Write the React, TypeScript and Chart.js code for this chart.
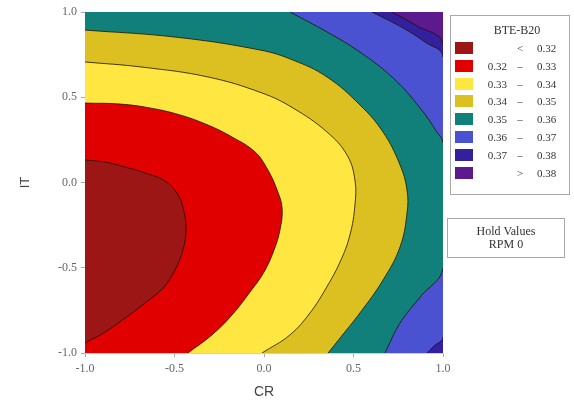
import React, { useEffect, useRef } from 'react';
import { Chart, registerables } from 'chart.js';

Chart.register(...registerables);

// Contour levels (BTE-B20) and region colours
const levels = [0.32, 0.33, 0.34, 0.35, 0.36, 0.37, 0.38];
const regionColors = ['#9c1616', '#e00000', '#ffe640', '#dcc022', '#12807a', '#4a52d2', '#34209c', '#5c1a8e'];

// Contour curves: [CR, IT] pairs, ordered top to bottom
const contour032 = [[-1, 0.132], [-0.888, 0.12], [-0.777, 0.091], [-0.665, 0.056], [-0.553, 0.009], [-0.48, -0.073], [-0.447, -0.173], [-0.436, -0.279], [-0.453, -0.396], [-0.497, -0.513], [-0.564, -0.619], [-0.665, -0.707], [-0.777, -0.795], [-0.888, -0.877], [-1, -0.941]];
const contour033 = [[-1, 0.466], [-0.804, 0.46], [-0.637, 0.437], [-0.469, 0.396], [-0.313, 0.337], [-0.179, 0.267], [-0.05, 0.179], [0.022, 0.073], [0.073, -0.044], [0.101, -0.15], [0.089, -0.279], [0.056, -0.396], [0.0, -0.525], [-0.078, -0.642], [-0.179, -0.777], [-0.291, -0.894], [-0.425, -1]];
const contour034 = [[-1, 0.707], [-0.682, 0.677], [-0.313, 0.619], [-0.011, 0.525], [0.162, 0.437], [0.352, 0.296], [0.464, 0.161], [0.508, 0.015], [0.508, -0.132], [0.48, -0.308], [0.425, -0.466], [0.341, -0.63], [0.257, -0.765], [0.145, -0.894], [-0.011, -1]];
const contour035 = [[-1, 0.894], [-0.497, 0.853], [-0.022, 0.777], [0.162, 0.718], [0.352, 0.619], [0.536, 0.455], [0.665, 0.296], [0.76, 0.103], [0.799, -0.044], [0.799, -0.179], [0.76, -0.378], [0.665, -0.572], [0.536, -0.765], [0.425, -0.912], [0.358, -1]];
const contour036 = [[0.145, 1], [0.352, 0.883], [0.536, 0.765], [0.721, 0.613], [0.872, 0.437], [0.966, 0.296], [1, 0.232], [1, -0.501], [0.872, -0.672], [0.76, -0.824], [0.676, -1]];
const contour037 = [[0.603, 1], [0.777, 0.906], [0.899, 0.824], [1, 0.736], [1, -0.906], [0.95, -0.959], [0.911, -1]];
const contour038 = [[0.715, 1], [0.844, 0.924], [1, 0.806], [1, -1]];
const fullArea = [[1, 1], [1, -1]];

const regions = [contour032, contour033, contour034, contour035, contour036, contour037, contour038, fullArea];
const contours = [contour032, contour033, contour034, contour035, contour036, contour037, contour038];

// Axes
const xTicks = [-1, -0.5, 0, 0.5, 1];
const xTickLabels = ['-1.0', '-0.5', '0.0', '0.5', '1.0'];
const yTicks = [-1, -0.5, 0, 0.5, 1];
const yTickLabels = ['-1.0', '-0.5', '0.0', '0.5', '1.0'];
const xTitle = 'CR';
const yTitle = 'IT';

// Legend
const legendTitle = 'BTE-B20';
const legendLower = ['', '0.32', '0.33', '0.34', '0.35', '0.36', '0.37', ''];
const legendSep = ['<', '–', '–', '–', '–', '–', '–', '>'];
const legendUpper = ['0.32', '0.33', '0.34', '0.35', '0.36', '0.37', '0.38', '0.38'];
const holdLabels = ['Hold Values', 'RPM 0'];

const lineColor = 'rgba(25,20,0,0.8)';
const serif = '"Liberation Serif", "DejaVu Serif", serif';
const sans = '"Liberation Sans", "DejaVu Sans", sans-serif';

export default function App() {
  const ref = useRef<HTMLCanvasElement>(null);

  useEffect(() => {
    if (!ref.current) return;
    const toPts = (arr: number[][]) => arr.map(([x, y]) => ({ x, y }));

    const fillSets = regions.map((r, i) => ({
      data: toPts(r),
      backgroundColor: regionColors[i],
      borderWidth: 0,
      borderColor: 'rgba(0,0,0,0)',
      fill: { value: -1 },
      pointRadius: 0,
      tension: 0.4,
      order: i + 1,
    }));

    const lineSets = contours.map((c) => ({
      data: toPts(c),
      borderColor: lineColor,
      borderWidth: 1,
      fill: false,
      pointRadius: 0,
      tension: 0.4,
      order: 0,
      segment: {
        borderColor: (ctx: any) => {
          const a = c[ctx.p0DataIndex];
          const b = c[ctx.p1DataIndex];
          return a && b && a[0] >= 1 && b[0] >= 1 ? 'rgba(0,0,0,0)' : lineColor;
        },
      },
    }));

    const tickFont = { family: serif, size: 12 };

    const chart = new Chart(ref.current, {
      type: 'line',
      data: { datasets: [...lineSets, ...fillSets] as any },
      options: {
        animation: false,
        responsive: false,
        indexAxis: 'y',
        events: [],
        layout: { padding: { top: 12, right: 131, bottom: 0, left: 0 } },
        plugins: { legend: { display: false }, tooltip: { enabled: false } },
        scales: {
          x: {
            type: 'linear',
            min: -1,
            max: 1,
            afterBuildTicks: (s: any) => {
              s.ticks = xTicks.map((v) => ({ value: v }));
            },
            afterFit: (s: any) => {
              s.height = 53;
            },
            ticks: {
              callback: (v: any) => xTickLabels[xTicks.indexOf(Number(v))],
              font: tickFont,
              color: '#666',
              padding: 5,
              maxRotation: 0,
              autoSkip: false,
            },
            grid: { display: true, drawOnChartArea: false, drawTicks: true, tickLength: 4, color: '#aaa' },
            border: { display: true, color: '#cfcfcf' },
            title: { display: true, text: xTitle, font: { family: sans, size: 14 }, color: '#444', padding: { top: 0, bottom: 5 } },
          },
          y: {
            type: 'linear',
            position: 'left',
            min: -1,
            max: 1,
            afterBuildTicks: (s: any) => {
              s.ticks = yTicks.map((v) => ({ value: v }));
            },
            afterFit: (s: any) => {
              s.width = 85;
            },
            ticks: {
              callback: (v: any) => yTickLabels[yTicks.indexOf(Number(v))],
              font: tickFont,
              color: '#666',
              padding: 4,
              autoSkip: false,
            },
            grid: { display: true, drawOnChartArea: false, drawTicks: true, tickLength: 4, color: '#aaa' },
            border: { display: true, color: '#cfcfcf' },
            title: { display: true, text: yTitle, font: { family: sans, size: 13 }, color: '#444', padding: { top: 18, bottom: 0 } },
          },
        },
      } as any,
    });
    return () => chart.destroy();
  }, []);

  return (
    <div style={{ position: 'fixed', left: 0, top: 0, width: 574, height: 406, background: '#fff', overflow: 'hidden' }}>
      <canvas ref={ref} width={574} height={406} style={{ position: 'absolute', left: 0, top: 0 }} />
      <div
        style={{
          position: 'absolute',
          left: 450,
          top: 15,
          width: 118,
          height: 178,
          border: '1px solid #a8a8a8',
          fontFamily: serif,
          color: '#333',
          background: '#fff',
        }}
      >
        <div style={{ position: 'absolute', left: 14, right: 0, top: 7, textAlign: 'center', fontSize: 12, lineHeight: '14px' }}>
          {legendTitle}
        </div>
        {legendUpper.map((u, i) => {
          const cy = 32 + 17.8 * i;
          return (
            <React.Fragment key={i}>
              <div style={{ position: 'absolute', left: 4, top: cy - 6, width: 18, height: 12, background: regionColors[i] }} />
              <div style={{ position: 'absolute', left: 20, width: 36, top: cy - 7, textAlign: 'right', fontSize: 11, lineHeight: '14px' }}>
                {legendLower[i]}
              </div>
              <div style={{ position: 'absolute', left: 62, width: 14, top: cy - 7, textAlign: 'center', fontSize: 11, lineHeight: '14px' }}>
                {legendSep[i]}
              </div>
              <div style={{ position: 'absolute', left: 86, top: cy - 7, fontSize: 11, lineHeight: '14px' }}>{u}</div>
            </React.Fragment>
          );
        })}
      </div>
      <div
        style={{
          position: 'absolute',
          left: 447,
          top: 218,
          width: 116,
          height: 38,
          border: '1px solid #a8a8a8',
          fontFamily: serif,
          color: '#333',
          background: '#fff',
          fontSize: 12,
          lineHeight: '13px',
          textAlign: 'center',
        }}
      >
        <div style={{ paddingTop: 6 }}>
          {holdLabels.map((t, i) => (
            <div key={i}>{t}</div>
          ))}
        </div>
      </div>
    </div>
  );
}
